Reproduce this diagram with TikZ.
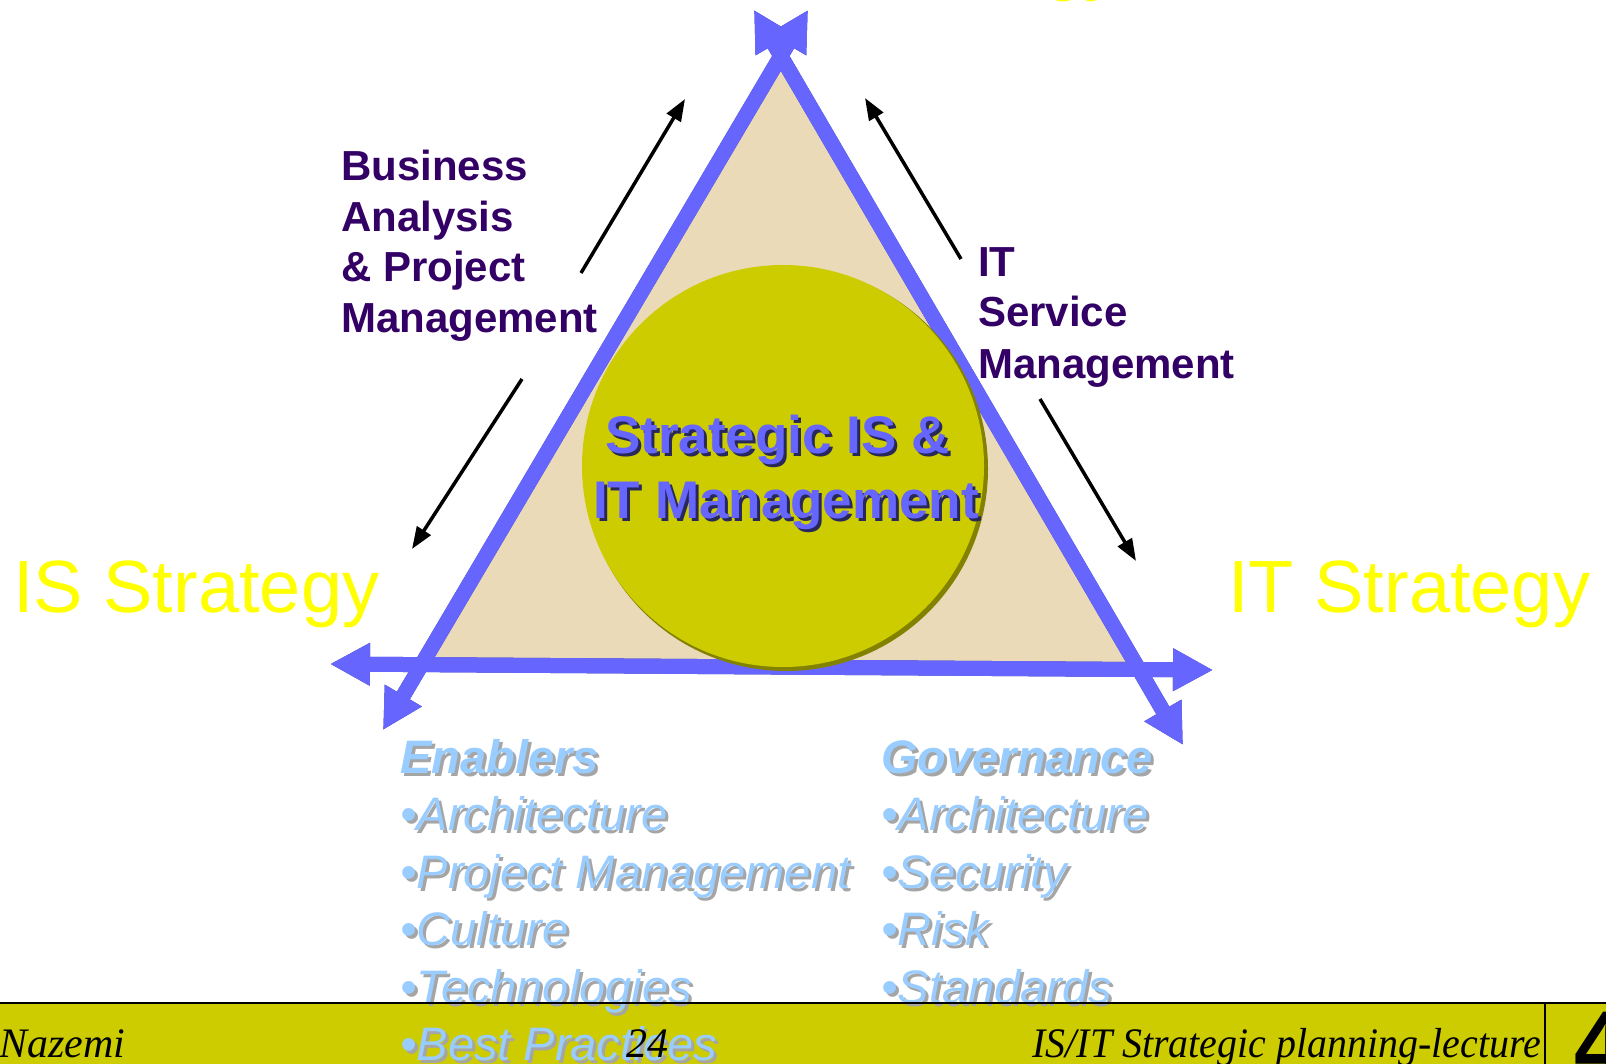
\documentclass[tikz,border=0pt]{standalone}
\usepackage{fontspec}
\setmainfont{Liberation Sans}
\newfontfamily\serifit{Liberation Serif}
\usetikzlibrary{arrows.meta}
\definecolor{bluearrow}{RGB}{102,102,255}
\definecolor{blueshadow}{RGB}{51,51,170}
\definecolor{olivefill}{RGB}{204,204,0}
\definecolor{oliveshadow}{RGB}{130,130,0}
\definecolor{parch}{RGB}{234,218,184}
\definecolor{purp}{RGB}{51,0,102}
\definecolor{lightblue}{RGB}{153,204,255}
\definecolor{greyshadow}{RGB}{165,165,165}
\definecolor{darkshadow}{RGB}{40,40,90}
\definecolor{stratyellow}{RGB}{255,255,0}
\newcommand\shtext[5]{%
  \node[txt, text=#4, xshift=3pt, yshift=-3pt] (#1s) at #2 {#5};
  \node[txt, text=#3] (#1) at #2 {#5};}
\begin{document}
\begin{tikzpicture}[x=1pt,y=-1pt,
  txt/.style={inner sep=0pt, anchor=base west},
  bigarrow/.style={line width=15pt, draw=bluearrow,
     {Triangle[length=40pt,width=40pt]}-{Triangle[length=40pt,width=40pt]}},
  bigshadow/.style={line width=15pt, draw=blueshadow,
     {Triangle[length=40pt,width=40pt]}-{Triangle[length=40pt,width=40pt]}},
  thinarrow/.style={line width=3.5pt, draw=black, -{Triangle[length=22pt,width=16pt]}},
  purplabel/.style={txt, text=purp, font=\fontsize{42}{50}\selectfont\bfseries},
  strat/.style={txt, text=stratyellow, font=\fontsize{74}{80}\selectfont},
  foot/.style={txt, text=black, font=\fontsize{42}{48}\selectfont\serifit\itshape}
]
\useasboundingbox (0,0) rectangle (1606,1064);
\fill[white] (0,0) rectangle (1606,1064);

% hidden top title (only descenders visible)
\node[strat, anchor=base east] (topstrat) at (1122,-13) {Business Strategy};

% parchment triangle
\coordinate (apex) at (783,62);
\coordinate (bl) at (424,662);
\coordinate (br) at (1134,662);
\fill[parch] (apex) -- (bl) -- (br) -- cycle;

% blue arrows (shadows then main)
\coordinate (hL) at (330,664);
\coordinate (hR) at (1213,670);
\coordinate (lB) at (383,730);
\coordinate (lT) at (808,10);
\coordinate (rB) at (1183,745);
\coordinate (rT) at (754,10);
\begin{scope}[shift={(3,3)}]
\draw[bigshadow] (hL) -- (hR);
\draw[bigshadow] (lB) -- (lT);
\draw[bigshadow] (rB) -- (rT);
\end{scope}
\draw[bigarrow] (hL) -- (hR);
\draw[bigarrow] (rB) -- (rT);
\draw[bigarrow] (lB) -- (lT);

% circle
\fill[oliveshadow] (786,469) circle (202);
\fill[olivefill] (783,466) circle (201);
\node[inner sep=0pt, minimum size=402pt, circle] (core) at (783,466) {};

% circle text
\shtext{c1}{(605,453)}{bluearrow}{darkshadow}{\fontsize{53}{60}\selectfont\bfseries Strategic IS \&}
\shtext{c2}{(593,518)}{bluearrow}{darkshadow}{\fontsize{53}{60}\selectfont\bfseries IT Management}

% purple labels
\node[purplabel] (ba1) at (341,181) {Business};
\node[purplabel] (ba2) at (341,231.5) {Analysis};
\node[purplabel] (ba3) at (341,282) {\& Project};
\node[purplabel] (ba4) at (341,332.5) {Management};
\node[purplabel] (it1) at (978,277) {IT};
\node[purplabel] (it2) at (978,327) {Service};
\node[purplabel] (it3) at (978,378) {Management};

% black arrows
\coordinate (a1s) at (581,273); \coordinate (a1e) at (685,99);
\coordinate (a2s) at (522,379); \coordinate (a2e) at (412,549);
\coordinate (a3s) at (961,259); \coordinate (a3e) at (865,98);
\coordinate (a4s) at (1040,399); \coordinate (a4e) at (1136,561);
\draw[thinarrow] (a1s) -- (a1e);
\draw[thinarrow] (a2s) -- (a2e);
\draw[thinarrow] (a3s) -- (a3e);
\draw[thinarrow] (a4s) -- (a4e);

% strategies
\node[strat] (isstrat) at (13,612) {IS Strategy};
\node[strat] (itstrat) at (1228,612) {IT Strategy};

% footer band
\fill[olivefill] (0,1003) rectangle (1606,1064);

% lists
\shtext{en0}{(400,773)}{lightblue}{greyshadow}{\fontsize{47}{52}\selectfont\bfseries\itshape Enablers}
\shtext{en1}{(400,830)}{lightblue}{greyshadow}{\fontsize{47}{52}\selectfont\itshape •Architecture}
\shtext{en2}{(400,888)}{lightblue}{greyshadow}{\fontsize{47}{52}\selectfont\itshape •Project Management}
\shtext{en3}{(400,945)}{lightblue}{greyshadow}{\fontsize{47}{52}\selectfont\itshape •Culture}
\shtext{en4}{(400,1003)}{lightblue}{greyshadow}{\fontsize{47}{52}\selectfont\itshape •Technologies}
\shtext{en5}{(400,1060)}{lightblue}{greyshadow}{\fontsize{47}{52}\selectfont\itshape •Best Practices}
\shtext{gv0}{(881,773)}{lightblue}{greyshadow}{\fontsize{47}{52}\selectfont\bfseries\itshape Governance}
\shtext{gv1}{(881,830)}{lightblue}{greyshadow}{\fontsize{47}{52}\selectfont\itshape •Architecture}
\shtext{gv2}{(881,888)}{lightblue}{greyshadow}{\fontsize{47}{52}\selectfont\itshape •Security}
\shtext{gv3}{(881,945)}{lightblue}{greyshadow}{\fontsize{47}{52}\selectfont\itshape •Risk}
\shtext{gv4}{(881,1003)}{lightblue}{greyshadow}{\fontsize{47}{52}\selectfont\itshape •Standards}

% footer lines and texts
\draw[line width=2pt] (0,1003) -- (1606,1003);
\draw[line width=2pt] (1545,1003) -- (1545,1064);
\node[foot] (author) at (-1,1057) {Nazemi};
\node[foot] (page) at (626,1057) {24};
\node[foot, anchor=base east] (lecture) at (1541,1057) {\scalebox{0.95}[1]{IS/IT Strategic planning-lecture}};
\node[inner sep=0pt, anchor=north west, text=black, font=\fontsize{95}{95}\selectfont\bfseries] (logo) at (1574,1012) {4};
\end{tikzpicture}
\end{document}
